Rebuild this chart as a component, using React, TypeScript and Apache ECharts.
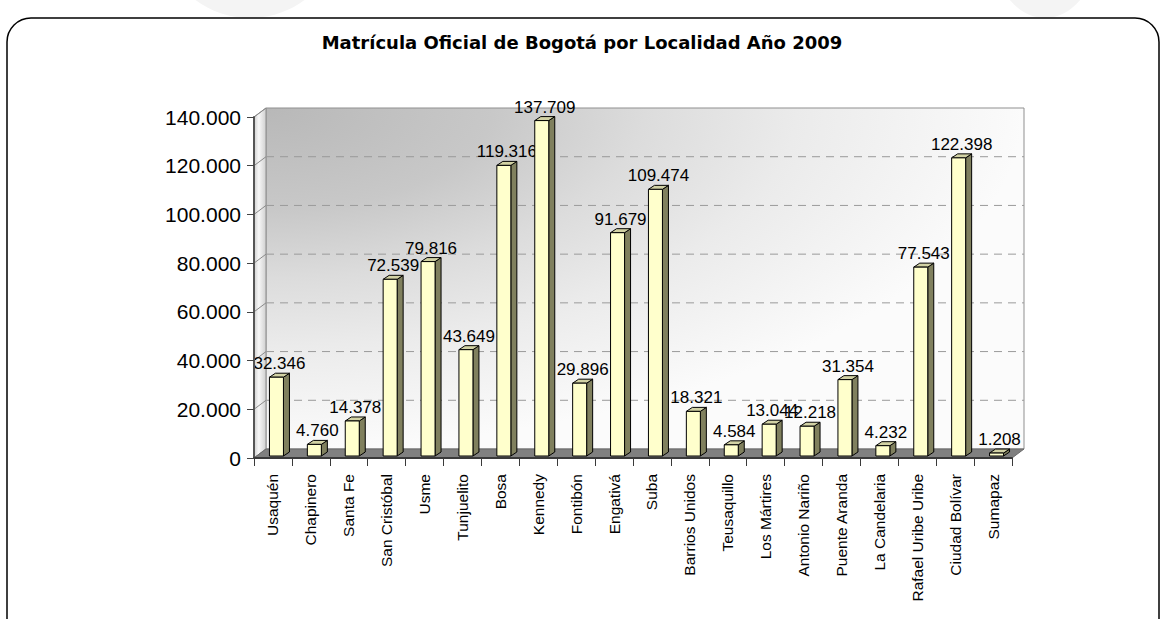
import React, { useEffect, useRef } from 'react';
import * as echarts from 'echarts';

const TITLE = 'Matrícula Oficial de Bogotá por Localidad Año 2009';

const categories = [
  'Usaquén', 'Chapinero', 'Santa Fe', 'San Cristóbal', 'Usme', 'Tunjuelito', 'Bosa',
  'Kennedy', 'Fontibón', 'Engativá', 'Suba', 'Barrios Unidos', 'Teusaquillo',
  'Los Mártires', 'Antonio Nariño', 'Puente Aranda', 'La Candelaria',
  'Rafael Uribe Uribe', 'Ciudad Bolívar', 'Sumapaz',
];

const matricula = [
  32346, 4760, 14378, 72539, 79816, 43649, 119316, 137709, 29896, 91679,
  109474, 18321, 4584, 13044, 12218, 31354, 4232, 77543, 122398, 1208,
];

const yTicks = [0, 20000, 40000, 60000, 80000, 100000, 120000, 140000];
const Y_MIN = 0;
const Y_MAX = 140000;
const Y_STEP = 20000;

const fmt = (v: number) => String(Math.round(v)).replace(/\B(?=(\d{3})+(?!\d))/g, '.');

// depth of the 3D box (screen offsets)
const DX = 12;
const DY = -9;

export default function App() {
  const ref = useRef<HTMLDivElement>(null);

  useEffect(() => {
    if (!ref.current) return;
    const chart = echarts.init(ref.current, undefined, { renderer: 'svg' });

    const backGrad = {
      type: 'radial', x: 0, y: 0, r: 1,
      colorStops: [
        { offset: 0, color: '#b8b8b8' },
        { offset: 0.3, color: '#c8c8c8' },
        { offset: 0.5, color: '#dcdcdc' },
        { offset: 0.7, color: '#ebebeb' },
        { offset: 1, color: '#fbfbfb' },
      ],
    };
    const sideGrad = {
      type: 'linear', x: 0, y: 0, x2: 1, y2: 0,
      colorStops: [
        { offset: 0, color: '#cfcfcf' },
        { offset: 0.4, color: '#f7f7f7' },
        { offset: 1, color: '#d0d0d0' },
      ],
    };

    const wallsRender = (params: any, api: any) => {
      const cs = params.coordSys;
      const x0 = cs.x;
      const x1 = cs.x + cs.width;
      const yTop = cs.y;
      const yBot = cs.y + cs.height;
      const children: any[] = [];
      children.push({
        type: 'rect',
        shape: { x: x0 + DX, y: yTop + DY, width: cs.width, height: cs.height },
        style: { fill: backGrad, stroke: '#8f8f8f', lineWidth: 1 },
      });
      children.push({
        type: 'polygon',
        shape: { points: [[x0, yTop], [x0 + DX, yTop + DY], [x0 + DX, yBot + DY], [x0, yBot]] },
        style: { fill: sideGrad, stroke: '#8f8f8f', lineWidth: 1 },
      });
      yTicks.forEach((t) => {
        const y = api.coord([0, t])[1];
        if (t > Y_MIN && t < Y_MAX) {
          children.push({
            type: 'line',
            shape: { x1: x0 + DX, y1: y + DY, x2: x1 + DX, y2: y + DY },
            style: { stroke: '#9a9a9a', lineWidth: 1, lineDash: [8, 6] },
          });
        }
        children.push({
          type: 'line',
          shape: { x1: x0, y1: y, x2: x0 + DX, y2: y + DY },
          style: { stroke: '#8a8a8a', lineWidth: 1 },
        });
      });
      children.push({
        type: 'polygon',
        shape: { points: [[x0, yBot], [x0 + DX, yBot + DY], [x1 + DX, yBot + DY], [x1, yBot]] },
        style: { fill: '#808080', stroke: '#6a6a6a', lineWidth: 1 },
      });
      return { type: 'group', children };
    };

    const barsRender = (params: any, api: any) => {
      const i = api.value(0);
      const v = api.value(1);
      const top = api.coord([i, v]);
      const base = api.coord([i, 0]);
      const fw = 14;
      const bdx = 6;
      const bdy = -4;
      const fx = top[0] - 3.5;
      const ty = top[1] - 2;
      const by = base[1] - 2;
      return {
        type: 'group',
        children: [
          {
            type: 'polygon',
            shape: { points: [[fx + fw, ty], [fx + fw + bdx, ty + bdy], [fx + fw + bdx, by + bdy], [fx + fw, by]] },
            style: { fill: '#80805e', stroke: '#000', lineWidth: 1 },
          },
          {
            type: 'polygon',
            shape: { points: [[fx, ty], [fx + bdx, ty + bdy], [fx + fw + bdx, ty + bdy], [fx + fw, ty]] },
            style: { fill: '#d2d2a4', stroke: '#000', lineWidth: 1 },
          },
          {
            type: 'rect',
            shape: { x: fx, y: ty, width: fw, height: by - ty },
            style: { fill: '#ffffcc', stroke: '#000', lineWidth: 1 },
          },
          {
            type: 'text',
            style: {
              text: fmt(v),
              x: fx + (fw + bdx) / 2,
              y: ty + bdy - 1,
              align: 'center',
              verticalAlign: 'bottom',
              fontFamily: 'Liberation Sans',
              fontSize: 17,
              fill: '#000',
            },
          },
        ],
      };
    };

    chart.setOption({
      animation: false,
      backgroundColor: '#ffffff',
      title: {
        text: TITLE,
        left: 'center',
        top: 33,
        padding: 0,
        textStyle: { fontFamily: 'DejaVu Sans', fontWeight: 'bold', fontSize: 18, color: '#000' },
      },
      graphic: [
        { type: 'ellipse', z: -30, shape: { cx: 250, cy: -70, rx: 90, ry: 88 }, style: { fill: '#f4f4f4' } },
        { type: 'ellipse', z: -30, shape: { cx: 1045, cy: -60, rx: 55, ry: 78 }, style: { fill: '#f4f4f4' } },
        {
          type: 'rect', z: -20,
          shape: { x: 7, y: 18, width: 1152, height: 640, r: 24 },
          style: { fill: '#ffffff', stroke: '#000', lineWidth: 1.5 },
        },
      ],
      grid: { left: 254, right: 152, top: 117, bottom: 161, containLabel: false },
      xAxis: {
        type: 'category',
        data: categories,
        z: 10,
        axisLine: { show: true, lineStyle: { color: '#3a3a3a', width: 2 } },
        axisTick: { show: true, length: 8, lineStyle: { color: '#3a3a3a', width: 1 } },
        axisLabel: {
          rotate: 90,
          interval: 0,
          margin: 16,
          fontFamily: 'Liberation Sans',
          fontSize: 15.5,
          color: '#000',
        },
        splitLine: { show: false },
      },
      yAxis: {
        type: 'value',
        min: Y_MIN,
        max: Y_MAX,
        interval: Y_STEP,
        z: 10,
        axisLine: { show: true, lineStyle: { color: '#555', width: 2 } },
        axisTick: { show: true, length: 7, lineStyle: { color: '#444', width: 1 } },
        axisLabel: {
          margin: 13,
          fontFamily: 'Liberation Sans',
          fontSize: 21,
          color: '#000',
          formatter: (v: number) => fmt(v),
        },
        splitLine: { show: false },
      },
      series: [
        {
          type: 'custom',
          name: 'walls',
          z: 1,
          clip: false,
          silent: true,
          data: [[0, 0]],
          renderItem: wallsRender,
        },
        {
          type: 'custom',
          name: 'Matrícula',
          z: 3,
          clip: false,
          data: matricula.map((v, i) => [i, v]),
          encode: { x: 0, y: 1 },
          renderItem: barsRender,
        },
      ],
    });

    return () => chart.dispose();
  }, []);

  return (
    <div
      ref={ref}
      style={{ position: 'absolute', left: 0, top: 0, width: 1164, height: 619 }}
    />
  );
}
